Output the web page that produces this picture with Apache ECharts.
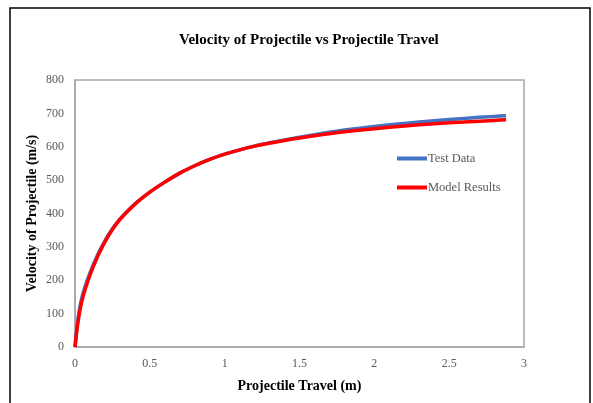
<!DOCTYPE html>
<html>
<head>
<meta charset="utf-8">
<script src="https://cdn.jsdelivr.net/npm/echarts@6/dist/echarts.min.js"></script>
<style>
html,body{margin:0;padding:0;background:#fff;}
#c{width:593px;height:403px;}
</style>
</head>
<body>
<div id="c"></div>
<script>
const travel = [0, 0.02, 0.05, 0.1, 0.15, 0.2, 0.25, 0.3, 0.4, 0.5, 0.6, 0.7, 0.8, 0.9, 1.0, 1.2, 1.4, 1.6, 1.8, 2.0, 2.2, 2.4, 2.6, 2.8, 2.88];
const testData = [0, 85, 155, 222, 275, 318, 354, 383, 428, 464, 494, 521, 543, 562, 578, 602, 620, 636, 650, 661, 670, 678, 685, 691, 693];
const modelResults = [0, 75, 145, 215, 270, 315, 352, 382, 428, 464, 494, 521, 543, 562, 578, 602, 619, 633, 645, 654, 662, 669, 674, 679, 681];
const xTicks = [0, 0.5, 1, 1.5, 2, 2.5, 3];
const yTicks = [0, 100, 200, 300, 400, 500, 600, 700, 800];

const FONT = '"Liberation Serif", "Times New Roman", serif';
const chart = echarts.init(document.getElementById('c'), null, {renderer: 'canvas'});
chart.setOption({
  animation: false,
  backgroundColor: '#ffffff',
  graphic: [{
    type: 'rect',
    shape: {x: 10, y: 8, width: 580, height: 430},
    style: {fill: 'none', stroke: '#000000', lineWidth: 1.5},
    silent: true
  }],
  title: {
    text: 'Velocity of Projectile vs Projectile Travel',
    left: 174,
    top: 28,
    textStyle: {fontFamily: FONT, fontSize: 15, fontWeight: 'bold', color: '#000000'}
  },
  legend: {
    orient: 'vertical',
    left: 392,
    top: 147,
    icon: 'rect',
    itemWidth: 30,
    itemHeight: 4,
    itemGap: 16,
    textStyle: {fontFamily: FONT, fontSize: 12.5, color: '#595959', padding: [0, 0, 0, -4]},
    data: ['Test Data', 'Model Results']
  },
  grid: {
    left: 75, right: 69, top: 80, bottom: 56,
    show: true, borderColor: '#a6a6a6', borderWidth: 1.5, containLabel: false
  },
  xAxis: {
    type: 'value',
    min: xTicks[0], max: xTicks[xTicks.length - 1], interval: xTicks[1] - xTicks[0],
    name: 'Projectile Travel (m)',
    nameLocation: 'middle',
    nameGap: 32,
    nameMoveOverlap: false,
    nameTextStyle: {fontFamily: FONT, fontSize: 14, fontWeight: 'bold', color: '#000000'},
    axisLine: {show: true, lineStyle: {color: '#a6a6a6', width: 1.5}},
    axisTick: {show: false},
    splitLine: {show: false},
    axisLabel: {fontFamily: FONT, fontSize: 12, color: '#595959', margin: 11}
  },
  yAxis: {
    type: 'value',
    min: yTicks[0], max: yTicks[yTicks.length - 1], interval: yTicks[1] - yTicks[0],
    name: 'Velocity of Projectile (m/s)',
    nameLocation: 'middle',
    nameGap: 36,
    nameMoveOverlap: false,
    nameTextStyle: {fontFamily: FONT, fontSize: 14, fontWeight: 'bold', color: '#000000'},
    axisLine: {show: true, lineStyle: {color: '#a6a6a6', width: 1.5}},
    axisTick: {show: false},
    splitLine: {show: false},
    axisLabel: {fontFamily: FONT, fontSize: 12, color: '#595959', margin: 11}
  },
  series: [
    {
      name: 'Test Data', type: 'line', smooth: 0.25, showSymbol: false,
      data: travel.map((x, i) => [x, testData[i]]),
      lineStyle: {color: '#4472C4', width: 3.5},
      itemStyle: {color: '#4472C4'}
    },
    {
      name: 'Model Results', type: 'line', smooth: 0.25, showSymbol: false,
      data: travel.map((x, i) => [x, modelResults[i]]),
      lineStyle: {color: '#FF0000', width: 3.5},
      itemStyle: {color: '#FF0000'}
    }
  ]
});
</script>
</body>
</html>
